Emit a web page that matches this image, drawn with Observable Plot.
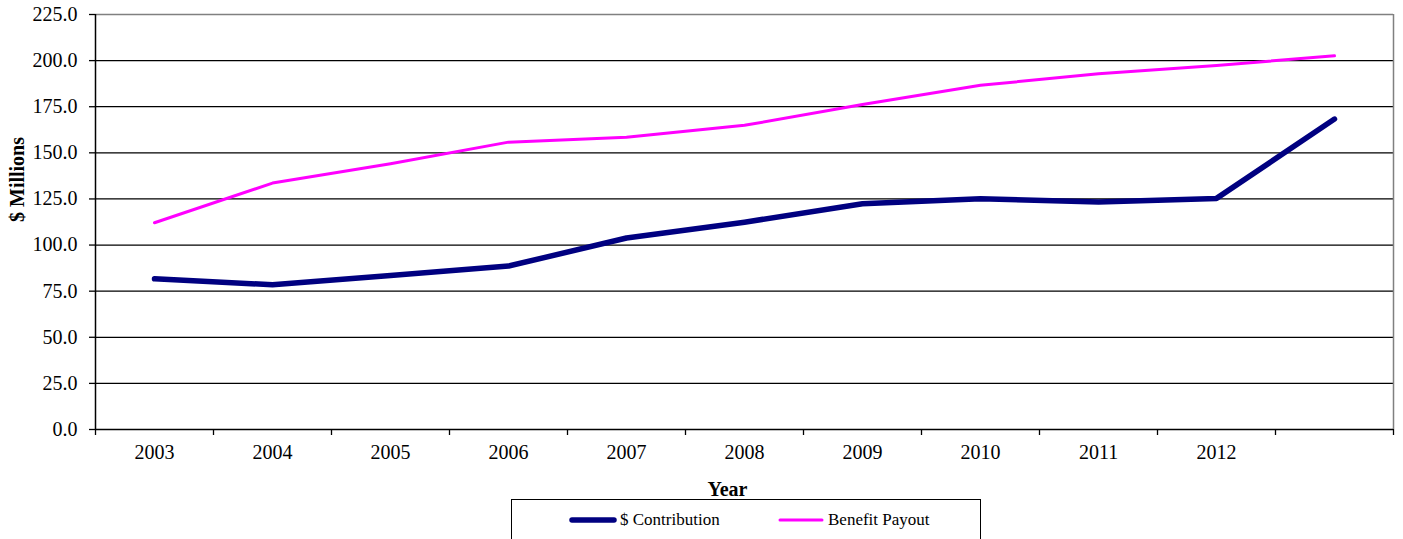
<!DOCTYPE html>
<html>
<head>
<meta charset="utf-8">
<script src="https://cdn.jsdelivr.net/npm/d3@7"></script>
<script src="https://cdn.jsdelivr.net/npm/@observablehq/plot@0.6"></script>
<style>
  html, body { margin: 0; padding: 0; background: #fff; }
  body { font-family: "Liberation Serif", "Times New Roman", serif; color: #000; }
  #chart svg { display: block; }
  .legend { position: relative; margin-left: 511px; width: 470px; height: 50px;
            border: 1px solid #000; box-sizing: border-box; background: #fff; }
  .legend .item { position: absolute; top: 9px; display: flex; align-items: center;
                  font-family: "Liberation Serif", "Times New Roman", serif;
                  font-size: 17px; white-space: nowrap; }
  .legend .item svg { display: block; margin-right: 3px; }
</style>
</head>
<body>
<div id="chart"></div>
<script>
// Fiscal years; the last slot carries a value but no tick label
const years = [2003, 2004, 2005, 2006, 2007, 2008, 2009, 2010, 2011, 2012, 2013];
const labeledYears = [2003, 2004, 2005, 2006, 2007, 2008, 2009, 2010, 2011, 2012];

// $ millions
const contribution = [81.7, 78.5, 83.5, 88.6, 103.8, 112.4, 122.4, 125.1, 123.3, 125.3, 168.3];
const benefitPayout = [112.1, 133.6, 144.1, 155.8, 158.4, 164.9, 176.2, 186.6, 192.9, 197.4, 202.6];

const seriesNames = ["$ Contribution", "Benefit Payout"];
const seriesColors = ["#000080", "#ff00ff"];
const seriesWidths = [5.5, 3];

const yTicks = [0, 25, 50, 75, 100, 125, 150, 175, 200, 225];

const rows = [];
years.forEach((yr, i) => {
  rows.push({year: yr, value: contribution[i], series: seriesNames[0]});
  rows.push({year: yr, value: benefitPayout[i], series: seriesNames[1]});
});

// category slots span year ± 0.5; boundary ticks sit between them
const xMin = years[0] - 0.5;
const xMax = years[years.length - 1] + 0.5;
const boundaries = d3.range(xMin, xMax + 0.001, 1);

const serif = "'Liberation Serif', 'Times New Roman', serif";

const chart = Plot.plot({
  width: 1403,
  height: 499,
  marginLeft: 95,
  marginRight: 10,
  marginTop: 14,
  marginBottom: 70,
  style: {fontFamily: serif, fontSize: "20px", color: "#000", background: "#fff"},
  x: {domain: [xMin, xMax]},
  y: {domain: [0, 225]},
  marks: [
    Plot.ruleY(yTicks.filter(d => d > 0 && d < 225), {stroke: "#000", strokeWidth: 1.2}),
    Plot.ruleY([225], {stroke: "#808080", strokeWidth: 1.5}),
    Plot.ruleX([xMax], {stroke: "#808080", strokeWidth: 1.5}),
    Plot.ruleY([0], {stroke: "#000", strokeWidth: 1.5}),
    Plot.ruleX([xMin], {stroke: "#000", strokeWidth: 1.5}),
    Plot.axisY({ticks: yTicks, tickFormat: d => d.toFixed(1), tickSize: 6, tickPadding: 12,
                stroke: "#000", strokeWidth: 1.3, label: null, fontFamily: serif, fontSize: 20}),
    Plot.axisX({ticks: boundaries, tickFormat: () => "", tickSize: 6, stroke: "#000",
                strokeWidth: 1.3, label: null}),
    Plot.axisX({ticks: labeledYears, tickFormat: d => String(d), tickSize: 0, tickPadding: 15,
                label: null, fontFamily: serif, fontSize: 20}),
    Plot.line(rows.filter(d => d.series === seriesNames[1]), {
      x: "year", y: "value", stroke: seriesColors[1], strokeWidth: seriesWidths[1],
      strokeLinejoin: "round", strokeLinecap: "round"
    }),
    Plot.line(rows.filter(d => d.series === seriesNames[0]), {
      x: "year", y: "value", stroke: seriesColors[0], strokeWidth: seriesWidths[0],
      strokeLinejoin: "round", strokeLinecap: "round"
    }),
    Plot.text(["Year"], {frameAnchor: "bottom", dy: 60, dx: -17, fontWeight: "bold",
                         fontSize: 20, fontFamily: serif, lineAnchor: "middle"}),
    Plot.text(["$ Millions"], {frameAnchor: "left", dx: -78, rotate: -90, fontWeight: "bold",
                               fontSize: 20, fontFamily: serif, lineAnchor: "middle"})
  ]
});

document.getElementById("chart").appendChild(chart);

// Legend box below the chart
const legend = document.createElement("div");
legend.className = "legend";
const itemLefts = [57, 265];
seriesNames.forEach((name, i) => {
  const item = document.createElement("div");
  item.className = "item";
  item.style.left = itemLefts[i] + "px";
  const sw = d3.create("svg").attr("width", 48).attr("height", 22);
  sw.append("line").attr("x1", 3).attr("x2", 45).attr("y1", 11).attr("y2", 11)
    .attr("stroke", seriesColors[i]).attr("stroke-width", seriesWidths[i])
    .attr("stroke-linecap", "round");
  item.appendChild(sw.node());
  const label = document.createElement("span");
  label.textContent = name;
  item.appendChild(label);
  legend.appendChild(item);
});
document.body.appendChild(legend);
</script>
</body>
</html>
